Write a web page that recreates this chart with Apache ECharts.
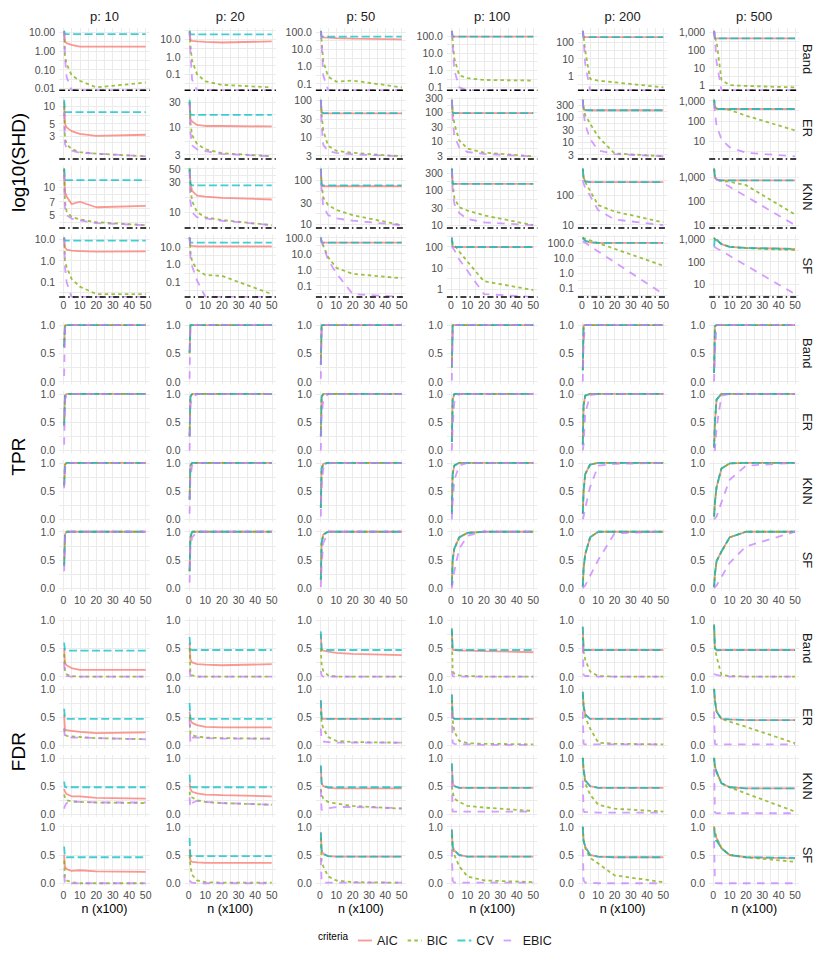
<!DOCTYPE html>
<html>
<head>
<meta charset="utf-8">
<script src="https://cdn.jsdelivr.net/npm/echarts@6/dist/echarts.min.js"></script>
<style>
  html, body { margin: 0; padding: 0; background: #fff; }
  #chart { width: 830px; height: 958px; }
</style>
</head>
<body>
<div id="chart"></div>
<script>
// sample size n (x100)
const nSizes = [0.5, 1, 2, 5, 10, 20, 50];
const criteria = ['AIC', 'BIC', 'CV', 'EBIC'];
const pValues = [10, 20, 50, 100, 200, 500];
const graphs = ['Band', 'ER', 'KNN', 'SF'];

// every array below: [p10, p20, p50, p100, p200, p500], each p: [AIC, BIC, CV, EBIC]
// SHD (0 = drawn at panel floor, like -Inf on the log scale)
const shdBand = [
  [[12, 3.2, 2.6, 2.1, 1.7, 1.7, 1.7], [10, 0.5, 0.2, 0.05, 0.025, 0.011, 0.02], [12, 8, 8, 8, 8, 8, 8], [10, 0.4, 0.04, 0, 0, 0, 0]],
  [[30, 9, 8, 7.5, 7, 6.5, 7.5], [25, 4, 0.6, 0.1, 0.04, 0.025, 0.018], [30, 19, 19, 19, 19, 19, 19], [25, 2, 0.05, 0, 0, 0, 0]],
  [[120, 55, 50, 48, 45, 42, 38], [110, 30, 2, 0.25, 0.13, 0.15, 0.06], [120, 55, 55, 55, 55, 55, 55], [110, 20, 0.3, 0, 0, 0, 0]],
  [[200, 92, 91, 91, 91, 91, 91], [200, 50, 5, 0.5, 0.35, 0.27, 0.25], [200, 93, 92, 92, 92, 92, 92], [190, 30, 1, 0.1, 0, 0, 0]],
  [[450, 190, 190, 190, 190, 190, 190], [450, 200, 30, 0.63, 0.5, 0.4, 0.2], [450, 190, 190, 190, 190, 190, 190], [450, 150, 5, 0, 0, 0, 0]],
  [[1200, 450, 450, 450, 450, 450, 450], [1200, 450, 300, 2, 1, 0.9, 0.75], [1200, 450, 450, 450, 450, 450, 450], [1200, 400, 20, 0, 0, 0, 0]]
];
const shdER = [
  [[12, 5, 4.3, 3.7, 3.3, 3.05, 3.2], [10, 2.8, 2.2, 1.8, 1.6, 1.5, 1.35], [13, 7.9, 7.9, 7.9, 7.9, 7.9, 7.9], [8, 2.2, 1.9, 1.7, 1.55, 1.5, 1.35]],
  [[30, 14, 12.7, 11, 10.5, 10.5, 10.3], [30, 12, 7, 4.8, 3.8, 3.2, 2.8], [33, 17, 17, 17, 17, 17, 17], [28, 8, 4.5, 3.8, 3.5, 3.1, 2.8]],
  [[105, 46, 44, 44, 44, 44, 44], [100, 40, 15, 5.6, 4.1, 3.6, 2.9], [105, 48, 45, 45, 45, 45, 45], [100, 20, 6, 4, 3.6, 3.3, 2.9]],
  [[260, 95, 90, 90, 90, 90, 90], [260, 100, 40, 10.5, 5.5, 4, 3], [260, 95, 90, 90, 90, 90, 90], [260, 60, 15, 6, 4.2, 3.6, 3]],
  [[500, 200, 190, 188, 188, 188, 188], [500, 250, 120, 54, 16, 3.4, 2.6], [500, 200, 190, 188, 188, 188, 188], [500, 150, 50, 13, 4.5, 3.2, 2.6]],
  [[1100, 400, 385, 385, 385, 385, 385], [1100, 500, 420, 390, 350, 180, 34], [1100, 400, 385, 385, 385, 385, 385], [700, 250, 60, 12, 5, 2.7, 1.8]]
];
const shdKNN = [
  [[16, 9, 8, 6.6, 7, 6.1, 6.3], [16, 7, 5.5, 4.8, 4.5, 4.2, 3.9], [16, 12, 12, 12, 12, 12, 12], [14, 6, 5, 4.6, 4.4, 4.1, 3.9]],
  [[50, 30, 22, 18.5, 17.8, 17, 16], [50, 25, 15, 10, 8.3, 7.5, 6.2], [50, 28, 27, 27, 27, 27, 27], [45, 15, 10, 8.3, 8, 7.3, 6.2]],
  [[180, 75, 72, 72, 72, 72, 72], [170, 80, 40, 27, 21, 16, 9.5], [180, 78, 75, 75, 75, 75, 75], [170, 60, 25, 16, 13.5, 12, 9.5]],
  [[400, 150, 148, 148, 148, 148, 148], [400, 150, 60, 32, 26, 19, 10], [400, 150, 148, 148, 148, 148, 148], [350, 100, 40, 22, 15, 12, 10]],
  [[800, 400, 300, 277, 277, 277, 277], [800, 400, 280, 140, 46, 28, 12], [800, 350, 290, 277, 277, 277, 277], [320, 250, 180, 95, 31, 15, 9.6]],
  [[2300, 1000, 800, 750, 750, 750, 750], [2300, 1000, 800, 700, 650, 470, 28], [2300, 1000, 800, 750, 750, 750, 750], [1000, 950, 850, 630, 400, 160, 10]]
];
const shdSF = [
  [[12, 4, 3.3, 2.9, 2.8, 2.6, 2.7], [12, 1, 0.5, 0.14, 0.06, 0.027, 0.027], [12, 8.6, 8.6, 8.6, 8.6, 8.6, 8.6], [12, 0.5, 0.1, 0, 0, 0, 0]],
  [[35, 12, 11.5, 11, 11, 11, 11], [35, 5, 1.5, 0.5, 0.25, 0.22, 0.02], [35, 18, 18, 18, 18, 18, 18], [35, 3, 0.8, 0.12, 0, 0, 0]],
  [[100, 48, 48, 48, 48, 48, 48], [100, 60, 30, 6, 1.3, 0.55, 0.29], [100, 48, 48, 48, 48, 48, 48], [90, 60, 30, 4, 0.6, 0.03, 0]],
  [[270, 100, 96, 95, 95, 95, 95], [200, 150, 120, 60, 20, 2.4, 0.93], [270, 100, 98, 97, 97, 97, 97], [110, 90, 70, 25, 7.4, 0.6, 0]],
  [[250, 200, 150, 120, 110, 110, 110], [250, 230, 210, 160, 105, 44, 3.2], [250, 200, 150, 120, 110, 110, 110], [140, 128, 110, 66, 29, 5.6, 0.04]],
  [[1200, 1000, 900, 610, 460, 410, 370], [1200, 1000, 900, 610, 460, 400, 330], [480, 1200, 1000, 610, 460, 410, 370], [490, 445, 400, 300, 182, 67, 3.5]]
];

// SHD y-axis breaks per panel
const shdTicksBand = [[0.01, 0.1, 1, 10], [0.1, 1, 10], [0.1, 1, 10, 100], [0.1, 1, 10, 100], [1, 10, 100], [1, 10, 100, 1000]];
const shdTicksER = [[3, 5, 10], [3, 10, 30], [3, 10, 30, 100], [3, 10, 30, 100, 300], [3, 10, 30, 100, 300], [10, 100, 1000]];
const shdTicksKNN = [[5, 7, 10], [10, 30, 50], [10, 30, 100], [10, 30, 100, 300], [10, 100, 1000], [10, 100, 1000]];
const shdTicksSF = [[0.1, 1, 10], [0.1, 1, 10], [0.1, 1, 10, 100], [1, 10, 100], [0.1, 1, 10, 100], [10, 100, 1000]];

// TPR
const tprBand = [
  [[0.62, 0.99, 1, 1, 1, 1, 1], [0.6, 0.99, 1, 1, 1, 1, 1], [0.62, 0.99, 1, 1, 1, 1, 1], [0.1, 0.95, 1, 1, 1, 1, 1]],
  [[0.5, 1, 1, 1, 1, 1, 1], [0.5, 1, 1, 1, 1, 1, 1], [0.52, 1, 1, 1, 1, 1, 1], [0.05, 0.95, 1, 1, 1, 1, 1]],
  [[0.3, 1, 1, 1, 1, 1, 1], [0.3, 1, 1, 1, 1, 1, 1], [0.3, 1, 1, 1, 1, 1, 1], [0.05, 0.9, 1, 1, 1, 1, 1]],
  [[0.25, 1, 1, 1, 1, 1, 1], [0.25, 1, 1, 1, 1, 1, 1], [0.25, 1, 1, 1, 1, 1, 1], [0.02, 0.85, 1, 1, 1, 1, 1]],
  [[0.2, 1, 1, 1, 1, 1, 1], [0.2, 1, 1, 1, 1, 1, 1], [0.2, 1, 1, 1, 1, 1, 1], [0, 0.7, 1, 1, 1, 1, 1]],
  [[0.15, 0.98, 1, 1, 1, 1, 1], [0.15, 0.98, 1, 1, 1, 1, 1], [0.15, 0.98, 1, 1, 1, 1, 1], [0, 0.5, 1, 1, 1, 1, 1]]
];
const tprER = [
  [[0.45, 0.97, 1, 1, 1, 1, 1], [0.45, 0.96, 1, 1, 1, 1, 1], [0.43, 0.97, 1, 1, 1, 1, 1], [0.1, 0.9, 0.98, 1, 1, 1, 1]],
  [[0.25, 0.95, 1, 1, 1, 1, 1], [0.25, 0.95, 1, 1, 1, 1, 1], [0.25, 0.95, 1, 1, 1, 1, 1], [0, 0.8, 0.92, 1, 1, 1, 1]],
  [[0.25, 0.95, 1, 1, 1, 1, 1], [0.25, 0.95, 1, 1, 1, 1, 1], [0.25, 0.95, 1, 1, 1, 1, 1], [0, 0.6, 0.9, 1, 1, 1, 1]],
  [[0.15, 0.9, 1, 1, 1, 1, 1], [0.15, 0.9, 1, 1, 1, 1, 1], [0.15, 0.9, 1, 1, 1, 1, 1], [0, 0.4, 0.85, 1, 1, 1, 1]],
  [[0.1, 0.8, 0.97, 1, 1, 1, 1], [0.1, 0.8, 0.97, 1, 1, 1, 1], [0.1, 0.8, 0.97, 1, 1, 1, 1], [0, 0.1, 0.65, 0.98, 1, 1, 1]],
  [[0.05, 0.5, 0.9, 1, 1, 1, 1], [0.05, 0.5, 0.9, 1, 1, 1, 1], [0.05, 0.5, 0.9, 1, 1, 1, 1], [0, 0, 0.4, 0.97, 1, 1, 1]]
];
const tprKNN = [
  [[0.6, 0.97, 1, 1, 1, 1, 1], [0.6, 0.97, 1, 1, 1, 1, 1], [0.6, 0.97, 1, 1, 1, 1, 1], [0.55, 0.9, 0.98, 1, 1, 1, 1]],
  [[0.35, 0.95, 1, 1, 1, 1, 1], [0.35, 0.95, 1, 1, 1, 1, 1], [0.35, 0.95, 1, 1, 1, 1, 1], [0.1, 0.75, 0.95, 1, 1, 1, 1]],
  [[0.2, 0.9, 0.98, 1, 1, 1, 1], [0.2, 0.9, 0.98, 1, 1, 1, 1], [0.2, 0.9, 0.98, 1, 1, 1, 1], [0.05, 0.6, 0.9, 0.99, 1, 1, 1]],
  [[0.1, 0.8, 0.95, 1, 1, 1, 1], [0.1, 0.8, 0.95, 1, 1, 1, 1], [0.1, 0.8, 0.95, 1, 1, 1, 1], [0, 0.3, 0.7, 0.95, 1, 1, 1]],
  [[0.1, 0.5, 0.8, 0.97, 1, 1, 1], [0.1, 0.5, 0.8, 0.97, 1, 1, 1], [0.1, 0.5, 0.8, 0.97, 1, 1, 1], [0, 0.05, 0.2, 0.57, 0.95, 0.98, 1]],
  [[0.05, 0.3, 0.57, 0.9, 0.99, 1, 1], [0.05, 0.3, 0.57, 0.9, 0.99, 1, 1], [0.05, 0.3, 0.57, 0.9, 0.99, 1, 1], [0, 0.02, 0.05, 0.3, 0.7, 0.95, 1]]
];
const tprSF = [
  [[0.4, 0.95, 1, 1, 1, 1, 1], [0.4, 0.95, 1, 1, 1, 1, 1], [0.4, 0.95, 1, 1, 1, 1, 1], [0.3, 0.9, 1, 1, 1, 1, 1]],
  [[0.3, 0.9, 1, 1, 1, 1, 1], [0.3, 0.9, 1, 1, 1, 1, 1], [0.3, 0.9, 1, 1, 1, 1, 1], [0.1, 0.7, 0.9, 1, 1, 1, 1]],
  [[0.15, 0.8, 0.95, 1, 1, 1, 1], [0.15, 0.8, 0.95, 1, 1, 1, 1], [0.15, 0.8, 0.95, 1, 1, 1, 1], [0.02, 0.4, 0.8, 1, 1, 1, 1]],
  [[0.05, 0.5, 0.7, 0.9, 0.98, 1, 1], [0.05, 0.5, 0.7, 0.9, 0.98, 1, 1], [0.05, 0.5, 0.7, 0.9, 0.98, 1, 1], [0, 0.1, 0.3, 0.7, 0.93, 1, 1]],
  [[0.03, 0.35, 0.6, 0.9, 1, 1, 1], [0.03, 0.35, 0.6, 0.9, 1, 1, 1], [0.03, 0.35, 0.6, 0.9, 1, 1, 1], [0, 0.02, 0.05, 0.22, 0.5, 0.97, 1]],
  [[0.02, 0.25, 0.48, 0.65, 0.9, 1, 1], [0.02, 0.25, 0.48, 0.65, 0.9, 1, 1], [0.02, 0.25, 0.48, 0.65, 0.9, 1, 1], [0, 0.02, 0.05, 0.2, 0.45, 0.74, 1]]
];

// FDR
const fdrBand = [
  [[0.5, 0.24, 0.2, 0.15, 0.12, 0.12, 0.12], [0.4, 0.1, 0.04, 0.01, 0, 0, 0], [0.6, 0.47, 0.46, 0.46, 0.46, 0.46, 0.46], [0.25, 0.03, 0.01, 0, 0, 0, 0]],
  [[0.6, 0.3, 0.25, 0.22, 0.21, 0.2, 0.22], [0.5, 0.05, 0.02, 0, 0, 0, 0], [0.7, 0.48, 0.47, 0.47, 0.47, 0.47, 0.47], [0.12, 0.01, 0, 0, 0, 0, 0]],
  [[0.75, 0.47, 0.46, 0.44, 0.42, 0.4, 0.38], [0.5, 0.2, 0.1, 0.02, 0, 0, 0], [0.8, 0.48, 0.47, 0.47, 0.47, 0.47, 0.47], [0.1, 0.02, 0, 0, 0, 0, 0]],
  [[0.85, 0.47, 0.47, 0.46, 0.46, 0.45, 0.43], [0.8, 0.1, 0.05, 0.02, 0.01, 0, 0], [0.85, 0.48, 0.47, 0.47, 0.47, 0.47, 0.47], [0.1, 0.01, 0, 0, 0, 0, 0]],
  [[0.88, 0.47, 0.47, 0.47, 0.47, 0.47, 0.47], [0.7, 0.45, 0.3, 0.09, 0.01, 0, 0], [0.88, 0.47, 0.47, 0.47, 0.47, 0.47, 0.47], [0.55, 0.03, 0.01, 0.01, 0, 0, 0]],
  [[0.92, 0.5, 0.46, 0.47, 0.47, 0.47, 0.47], [0.9, 0.5, 0.35, 0.03, 0.01, 0, 0], [0.92, 0.5, 0.47, 0.47, 0.47, 0.47, 0.47], [0.05, 0.04, 0.03, 0.01, 0, 0, 0]]
];
const fdrER = [
  [[0.55, 0.28, 0.27, 0.26, 0.24, 0.22, 0.23], [0.3, 0.19, 0.17, 0.16, 0.15, 0.13, 0.11], [0.65, 0.48, 0.47, 0.47, 0.47, 0.47, 0.47], [0.3, 0.15, 0.15, 0.14, 0.14, 0.13, 0.11]],
  [[0.6, 0.45, 0.4, 0.36, 0.33, 0.32, 0.32], [0.5, 0.2, 0.18, 0.16, 0.14, 0.13, 0.12], [0.75, 0.48, 0.47, 0.47, 0.47, 0.47, 0.47], [0.45, 0.05, 0.14, 0.14, 0.13, 0.12, 0.12]],
  [[0.8, 0.48, 0.47, 0.47, 0.47, 0.47, 0.47], [0.6, 0.4, 0.3, 0.15, 0.08, 0.06, 0.05], [0.8, 0.48, 0.47, 0.47, 0.47, 0.47, 0.47], [0.3, 0.08, 0.07, 0.06, 0.05, 0.05, 0.05]],
  [[0.9, 0.5, 0.47, 0.47, 0.47, 0.47, 0.47], [0.8, 0.45, 0.25, 0.08, 0.04, 0.03, 0.02], [0.9, 0.5, 0.47, 0.47, 0.47, 0.47, 0.47], [0.6, 0.05, 0.03, 0.02, 0.02, 0.01, 0.01]],
  [[0.95, 0.7, 0.55, 0.47, 0.47, 0.47, 0.47], [0.9, 0.7, 0.5, 0.3, 0.05, 0.03, 0.02], [0.95, 0.7, 0.55, 0.47, 0.47, 0.47, 0.47], [0.6, 0.03, 0.02, 0.02, 0.02, 0.02, 0.02]],
  [[1, 0.8, 0.6, 0.47, 0.46, 0.45, 0.45], [1, 0.8, 0.6, 0.47, 0.42, 0.33, 0.04], [1, 0.8, 0.6, 0.47, 0.46, 0.45, 0.45], [0.6, 0.02, 0.02, 0.02, 0.02, 0.02, 0.02]]
];
const fdrKNN = [
  [[0.45, 0.4, 0.36, 0.32, 0.32, 0.29, 0.28], [0.35, 0.3, 0.25, 0.23, 0.22, 0.21, 0.2], [0.58, 0.48, 0.48, 0.48, 0.48, 0.48, 0.48], [0.1, 0.15, 0.2, 0.23, 0.22, 0.21, 0.21]],
  [[0.55, 0.45, 0.4, 0.37, 0.35, 0.34, 0.32], [0.4, 0.3, 0.3, 0.25, 0.22, 0.2, 0.17], [0.7, 0.49, 0.48, 0.48, 0.48, 0.48, 0.48], [0.3, 0.13, 0.2, 0.24, 0.22, 0.2, 0.17]],
  [[0.85, 0.55, 0.5, 0.47, 0.46, 0.46, 0.46], [0.45, 0.35, 0.28, 0.22, 0.19, 0.15, 0.1], [0.87, 0.55, 0.5, 0.48, 0.48, 0.48, 0.48], [0.44, 0.08, 0.08, 0.11, 0.13, 0.13, 0.11]],
  [[0.9, 0.55, 0.5, 0.47, 0.47, 0.47, 0.47], [0.5, 0.4, 0.28, 0.22, 0.15, 0.12, 0.06], [0.9, 0.55, 0.5, 0.47, 0.47, 0.47, 0.47], [0.6, 0.05, 0.05, 0.05, 0.05, 0.05, 0.05]],
  [[1, 0.8, 0.6, 0.5, 0.47, 0.47, 0.47], [1, 0.75, 0.55, 0.35, 0.17, 0.1, 0.05], [1, 0.8, 0.6, 0.5, 0.47, 0.47, 0.47], [0.6, 0.05, 0.04, 0.04, 0.03, 0.03, 0.03]],
  [[1, 0.85, 0.75, 0.55, 0.48, 0.46, 0.46], [1, 0.85, 0.75, 0.55, 0.48, 0.37, 0.05], [1, 0.85, 0.75, 0.55, 0.48, 0.46, 0.46], [0.8, 0.03, 0.02, 0.02, 0.02, 0.02, 0.02]]
];
const fdrSF = [
  [[0.5, 0.29, 0.25, 0.22, 0.23, 0.21, 0.2], [0.4, 0.1, 0.05, 0.02, 0, 0, 0], [0.65, 0.47, 0.46, 0.46, 0.46, 0.46, 0.46], [0.15, 0.02, 0, 0, 0, 0, 0]],
  [[0.6, 0.4, 0.38, 0.37, 0.36, 0.36, 0.36], [0.5, 0.3, 0.15, 0.05, 0.02, 0.01, 0.01], [0.8, 0.49, 0.48, 0.48, 0.48, 0.48, 0.48], [0.05, 0.03, 0.01, 0, 0, 0, 0]],
  [[0.9, 0.58, 0.52, 0.48, 0.47, 0.47, 0.47], [0.8, 0.4, 0.3, 0.12, 0.05, 0.02, 0.01], [0.9, 0.58, 0.52, 0.48, 0.47, 0.47, 0.47], [0.45, 0.02, 0.01, 0.01, 0.01, 0.01, 0.01]],
  [[0.95, 0.65, 0.58, 0.5, 0.47, 0.47, 0.47], [0.85, 0.6, 0.5, 0.3, 0.12, 0.05, 0.02], [0.95, 0.65, 0.58, 0.5, 0.47, 0.47, 0.47], [0.6, 0.05, 0.01, 0.01, 0.01, 0.01, 0.01]],
  [[1, 0.75, 0.65, 0.5, 0.47, 0.46, 0.46], [1, 0.75, 0.62, 0.45, 0.35, 0.14, 0.02], [1, 0.75, 0.65, 0.5, 0.47, 0.46, 0.46], [0.6, 0.05, 0.01, 0.01, 0, 0, 0]],
  [[1, 0.9, 0.8, 0.62, 0.5, 0.46, 0.44], [1, 0.9, 0.8, 0.62, 0.5, 0.46, 0.38], [0.95, 0.75, 0.75, 0.62, 0.5, 0.46, 0.45], [0.75, 0.01, 0, 0, 0, 0, 0]]
];

const xTicks = [0, 10, 20, 30, 40, 50];
const xGrid = [0, 5, 10, 15, 20, 25, 30, 35, 40, 45, 50];
const unitTicks = [0, 0.5, 1];
const unitGrid = [0, 0.25, 0.5, 0.75, 1];

// ---- layout / style ----
const fontFamily = '"Liberation Sans", Arial, Helvetica, sans-serif';
const colLeft = [59.2, 184.6, 315.9, 446.9, 577.9, 709.2];
const colWidth = [90.6, 91.3, 89.9, 90.5, 89.4, 89.9];
const rowTop = [28, 96.9, 165.8, 234.7, 322.2, 391.1, 460, 528.9, 617.2, 686.1, 755, 823.9];
const panelH = 62.2;
const lineColors = ['rgba(248,118,109,0.75)', 'rgba(124,174,0,0.75)', 'rgba(0,191,196,0.75)', 'rgba(199,124,255,0.75)'];
const lineDash = ['solid', [3.5, 3.2], [8, 3.5], [7.5, 6.5]];
const gridColor = '#EBEBEB';

const blocks = [
  { title: 'log10(SHD)', log: true, data: [shdBand, shdER, shdKNN, shdSF], ticks: [shdTicksBand, shdTicksER, shdTicksKNN, shdTicksSF] },
  { title: 'TPR', log: false, data: [tprBand, tprER, tprKNN, tprSF] },
  { title: 'FDR', log: false, data: [fdrBand, fdrER, fdrKNN, fdrSF] }
];

function logRange(sets) {
  let lo = Infinity, hi = -Infinity;
  sets.forEach(s => s.forEach(v => {
    if (v > 0) { lo = Math.min(lo, v); hi = Math.max(hi, v); }
  }));
  const a = Math.log10(lo), b = Math.log10(hi), pad = (b - a) * 0.05;
  return [Math.pow(10, a - pad), Math.pow(10, b + pad)];
}

// major + minor (midpoint in log space) grid positions
function logGrid(ticks, lo, hi) {
  const l = ticks.map(t => Math.log10(t));
  const pts = [l[0] - (l[1] - l[0]) / 2];
  l.forEach((v, i) => {
    pts.push(v);
    if (i < l.length - 1) pts.push((v + l[i + 1]) / 2);
  });
  pts.push(l[l.length - 1] + (l[l.length - 1] - l[l.length - 2]) / 2);
  return pts.map(v => Math.pow(10, v)).filter(v => v >= lo && v <= hi);
}

function tickFormatter(ticks) {
  const dec = Math.max.apply(null, ticks.map(t => {
    const s = String(t);
    return s.indexOf('.') >= 0 ? s.split('.')[1].length : 0;
  }));
  return v => Number(v).toLocaleString('en-US', { minimumFractionDigits: dec, maximumFractionDigits: dec });
}

const grids = [], xAxes = [], yAxes = [], series = [];
const axisText = { color: '#4D4D4D', fontSize: 10.5, fontFamily: fontFamily };

blocks.forEach((blk, b) => {
  graphs.forEach((g, gi) => {
    const r = b * 4 + gi;
    pValues.forEach((p, ci) => {
      const k = grids.length;
      const sets = blk.data[gi][ci];
      grids.push({ left: colLeft[ci], top: rowTop[r], width: colWidth[ci], height: panelH });
      xAxes.push({
        type: 'value', gridIndex: k, min: -2.5, max: 52.5,
        axisLine: { show: false },
        axisTick: { show: false, customValues: xGrid },
        axisLabel: { show: gi === 3, customValues: xTicks, margin: 3, ...axisText },
        splitLine: { show: true, lineStyle: { color: gridColor, width: 1 } }
      });
      let floor = null;
      if (blk.log) {
        const ticks = blk.ticks[gi][ci];
        const range = logRange(sets);
        floor = range[0];
        yAxes.push({
          type: 'log', gridIndex: k, min: range[0], max: range[1],
          axisLine: { show: false },
          axisTick: { show: false, customValues: logGrid(ticks, range[0], range[1]) },
          axisLabel: { customValues: ticks, formatter: tickFormatter(ticks), margin: 4, ...axisText },
          splitLine: { show: true, lineStyle: { color: gridColor, width: 1 } }
        });
      } else {
        yAxes.push({
          type: 'value', gridIndex: k, min: -0.05, max: 1.05,
          axisLine: { show: false },
          axisTick: { show: false, customValues: unitGrid },
          axisLabel: { customValues: unitTicks, formatter: v => Number(v).toFixed(1), margin: 4, ...axisText },
          splitLine: { show: true, lineStyle: { color: gridColor, width: 1 } }
        });
      }
      criteria.forEach((c, si) => {
        series.push({
          type: 'line', name: c, xAxisIndex: k, yAxisIndex: k,
          data: nSizes.map((n, i) => [n, (floor !== null && sets[si][i] <= 0) ? floor : sets[si][i]]),
          symbol: 'none', showSymbol: false, silent: true, animation: false,
          lineStyle: { color: lineColors[si], width: 1.8, type: lineDash[si] },
          itemStyle: { color: lineColors[si] },
          z: 2 + si
        });
      });
      if (floor !== null) {
        series.push({
          type: 'line', name: 'zero', xAxisIndex: k, yAxisIndex: k,
          data: [[-2.5, floor], [52.5, floor]],
          symbol: 'none', silent: true, animation: false, clip: false,
          lineStyle: { color: '#000', width: 1.5, type: [6, 3, 1.5, 3] },
          z: 10
        });
      }
    });
  });
});

// texts: strips and axis titles
const graphic = [];
pValues.forEach((p, ci) => {
  graphic.push({ type: 'text', x: colLeft[ci] + colWidth[ci] / 2, y: 16,
    style: { text: 'p: ' + p, fill: '#1A1A1A', fontSize: 13, fontFamily: fontFamily, align: 'center', verticalAlign: 'middle' } });
  graphic.push({ type: 'text', x: colLeft[ci] + colWidth[ci] / 2, y: 909,
    style: { text: 'n (x100)', fill: '#000', fontSize: 12.5, fontFamily: fontFamily, align: 'center', verticalAlign: 'middle' } });
});
blocks.forEach((blk, b) => {
  graphs.forEach((g, gi) => {
    const r = b * 4 + gi;
    graphic.push({ type: 'text', x: 807, y: rowTop[r] + panelH / 2, rotation: -Math.PI / 2,
      style: { text: g, fill: '#1A1A1A', fontSize: 13, fontFamily: fontFamily, align: 'center', verticalAlign: 'middle' } });
  });
  const midY = (rowTop[b * 4] + rowTop[b * 4 + 3] + panelH) / 2;
  graphic.push({ type: 'text', x: 18, y: midY, rotation: Math.PI / 2,
    style: { text: blk.title, fill: '#000', fontSize: 19, fontFamily: fontFamily, align: 'center', verticalAlign: 'middle' } });
});
graphic.push({ type: 'text', x: 333, y: 936,
  style: { text: 'criteria', fill: '#000', fontSize: 10, fontFamily: fontFamily, align: 'center', verticalAlign: 'middle' } });

const chart = echarts.init(document.getElementById('chart'), null, { renderer: 'svg' });
chart.setOption({
  animation: false,
  backgroundColor: '#fff',
  grid: grids,
  xAxis: xAxes,
  yAxis: yAxes,
  series: series,
  legend: {
    data: criteria, left: 352, top: 929, itemWidth: 14, itemHeight: 10, itemGap: 9,
    itemStyle: { opacity: 0 },
    lineStyle: { width: 1.8 },
    textStyle: { color: '#1A1A1A', fontSize: 12.5, fontFamily: fontFamily },
    selectedMode: false
  },
  graphic: graphic
});
</script>
</body>
</html>
